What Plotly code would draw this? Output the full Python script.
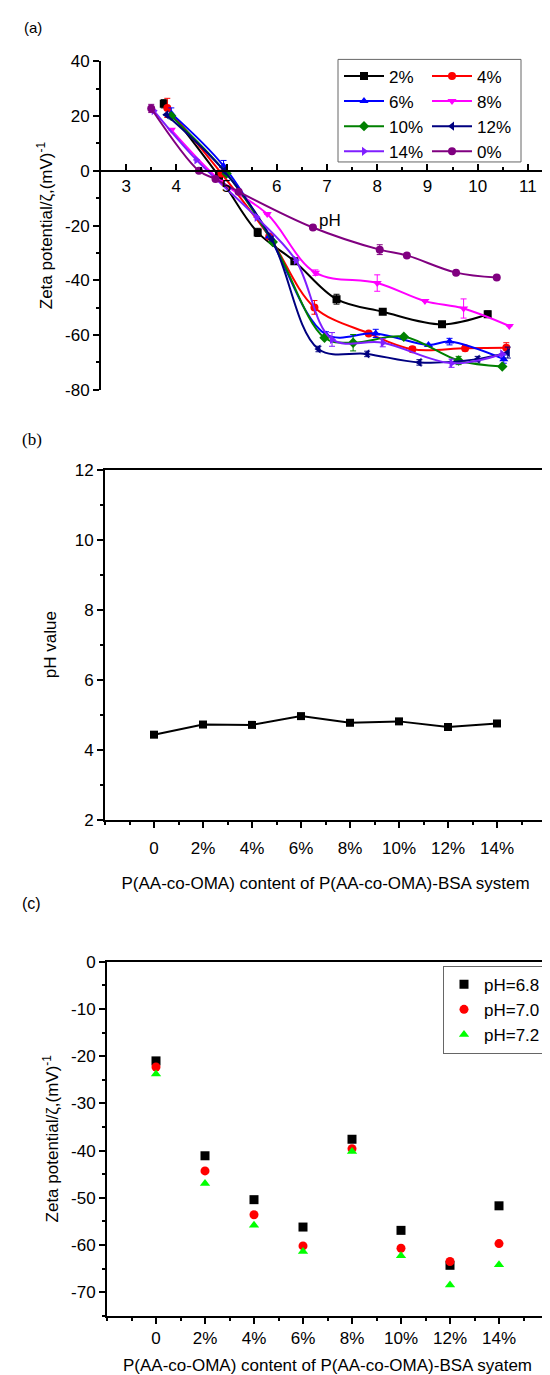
import plotly.graph_objects as go

W, H = 550, 1375
FONT = "Liberation Sans, Arial, sans-serif"

# ---------------- Panel (a) data ----------------
names_a = ["2%", "4%", "6%", "8%", "10%", "12%", "14%", "0%"]
colors_a = ["#000000", "#FF0000", "#0000FF", "#FF00FF", "#008000", "#000080", "#7F1FFF", "#800080"]
symbols_a = ["square", "circle", "triangle-up", "triangle-down", "diamond", "triangle-left", "triangle-right", "circle"]

ph_2 = [3.75, 4.85, 5.62, 6.35, 7.19, 8.11, 9.29, 10.2]
z_2 = [24.5, -2.0, -22.5, -33.0, -46.9, -51.5, -56.1, -52.4]
e_2 = [1.5, 0, 1.5, 0, 1.8, 1.0, 1.0, 1.2]

ph_4 = [3.82, 4.9, 5.85, 6.75, 7.83, 8.7, 9.75, 10.57]
z_4 = [23.0, -1.0, -24.0, -49.9, -59.4, -65.2, -64.8, -64.6]
e_4 = [3.5, 0, 0, 2.5, 0, 1.0, 1.0, 1.8]

ph_6 = [3.9, 4.94, 5.85, 6.98, 7.97, 9.02, 9.44, 10.52]
z_6 = [21.0, 1.8, -24.0, -59.8, -59.4, -63.6, -62.4, -68.8]
e_6 = [2.0, 2.0, 0, 1.0, 1.5, 0, 1.2, 1.5]

ph_8 = [3.9, 4.9, 5.81, 6.77, 8.0, 8.95, 9.72, 10.63]
z_8 = [15.0, -4.0, -15.8, -37.2, -41.0, -47.6, -50.3, -56.7]
e_8 = [0, 0, 0, 1.0, 3.0, 0, 3.5, 0]

ph_10 = [3.9, 5.0, 5.92, 6.95, 7.52, 8.53, 9.62, 10.49]
z_10 = [20.0, -1.0, -26.0, -61.0, -62.8, -60.6, -69.3, -71.5]
e_10 = [0, 0, 0, 0, 3.0, 0, 1.5, 0]

ph_12 = [3.8, 4.95, 5.9, 6.83, 7.8, 8.84, 10.0, 10.6]
z_12 = [20.5, 0.0, -25.0, -65.1, -66.9, -70.0, -68.8, -66.4]
e_12 = [0, 0, 0, 1.0, 1.0, 1.0, 1.0, 2.0]

ph_14 = [3.55, 4.4, 5.6, 6.38, 7.1, 8.11, 9.48, 10.49]
z_14 = [22.0, 4.0, -17.0, -32.7, -61.6, -62.8, -70.3, -66.9]
e_14 = [0, 0, 0, 0, 2.5, 1.5, 1.5, 0]

ph_0 = [3.5, 4.45, 4.78, 5.24, 6.72, 8.05, 8.59, 9.57, 10.38]
z_0 = [22.8, 0.0, -3.0, -7.6, -20.7, -28.8, -30.9, -37.2, -39.0]
e_0 = [1.5, 0, 0, 0, 0.8, 1.8, 0, 0, 0]

series_a = [(ph_2, z_2, e_2), (ph_4, z_4, e_4), (ph_6, z_6, e_6), (ph_8, z_8, e_8),
            (ph_10, z_10, e_10), (ph_12, z_12, e_12), (ph_14, z_14, e_14), (ph_0, z_0, e_0)]
legend_of_a = ["legend", "legend2", "legend", "legend2", "legend", "legend2", "legend", "legend2"]

a_xticks = [3, 4, 5, 6, 7, 8, 9, 10, 11]
a_yticks = [40, 20, 0, -20, -40, -60, -80]

# ---------------- Panel (b) data ----------------
categories = ["0", "2%", "4%", "6%", "8%", "10%", "12%", "14%"]
ph_values = [4.43, 4.72, 4.71, 4.96, 4.77, 4.81, 4.65, 4.75]
b_yticks = [2, 4, 6, 8, 10, 12]

# ---------------- Panel (c) data ----------------
names_c = ["pH=6.8", "pH=7.0", "pH=7.2"]
z_ph68 = [-21.0, -41.1, -50.4, -56.2, -37.6, -56.9, -64.3, -51.7]
z_ph70 = [-22.3, -44.3, -53.6, -60.2, -39.6, -60.7, -63.5, -59.7]
z_ph72 = [-23.8, -47.0, -55.8, -61.4, -40.2, -62.3, -68.5, -64.2]
colors_c = ["#000000", "#FF0000", "#00FF00"]
symbols_c = ["square", "circle", "triangle-up"]
c_yticks = [0, -10, -20, -30, -40, -50, -60, -70]

fig = go.Figure()

# Panel (a) traces
for (xs, ys, es), nm, col, sym, lg in zip(series_a, names_a, colors_a, symbols_a, legend_of_a):
    fig.add_trace(go.Scatter(
        x=xs, y=ys, name=nm, mode="lines+markers",
        line=dict(color=col, width=2, shape="spline", smoothing=1.0),
        marker=dict(color=col, symbol=sym, size=8),
        error_y=dict(type="data", array=es, visible=True, color=col, thickness=1, width=3),
        xaxis="x", yaxis="y", legend=lg))

# Panel (b) trace
idx = list(range(len(categories)))
fig.add_trace(go.Scatter(
    x=idx, y=ph_values, mode="lines+markers", showlegend=False,
    line=dict(color="black", width=2), marker=dict(color="black", symbol="square", size=8),
    xaxis="x2", yaxis="y2"))

# Panel (c) traces
for ys, nm, col, sym in zip([z_ph68, z_ph70, z_ph72], names_c, colors_c, symbols_c):
    fig.add_trace(go.Scatter(
        x=idx, y=ys, name=nm, mode="markers",
        marker=dict(color=col, symbol=sym, size=9),
        xaxis="x3", yaxis="y3", legend="legend3"))

# ---------- geometry ----------
def px_x(p):
    return p / W

def px_y(p):
    return 1 - p / H

a_dom_x = [px_x(93), px_x(545)]
a_dom_y = [px_y(378), px_y(45)]
a_yrange = [-80, 40]
a_zero = a_dom_y[0] + (0 - a_yrange[0]) / (a_yrange[1] - a_yrange[0]) * (a_dom_y[1] - a_dom_y[0])

b_dom_x = [px_x(97), px_x(538)]
b_dom_y = [px_y(814), px_y(459)]

c_dom_x = [px_x(99), px_x(540)]
c_dom_y = [px_y(1317), px_y(958)]

FS = 17
tickfont = dict(family=FONT, size=FS, color="black")
titlefont = dict(family=FONT, size=FS, color="black")

axis_common = dict(showgrid=False, zeroline=False, showline=True, linecolor="black",
                   linewidth=2, tickcolor="black", tickwidth=2, tickfont=tickfont)

def lab(vals):
    return [str(v) for v in vals]

fig.update_layout(
    width=W, height=H, margin=dict(l=0, r=0, t=0, b=0),
    paper_bgcolor="white", plot_bgcolor="white",
    font=dict(family=FONT, size=FS, color="black"),
    xaxis=dict(domain=a_dom_x, range=[2.5, 11.5], anchor="free", position=a_zero,
               tickvals=a_xticks, ticktext=lab(a_xticks), ticks="inside", ticklen=6,
               minor=dict(ticks="inside", dtick=0.5, tick0=3, ticklen=3, tickcolor="black", tickwidth=1.5),
               **axis_common),
    yaxis=dict(domain=a_dom_y, range=a_yrange, anchor="x",
               tickvals=a_yticks, ticktext=lab(a_yticks),
               ticks="outside", ticklen=6,
               minor=dict(ticks="outside", dtick=10, tick0=0, ticklen=3, tickcolor="black", tickwidth=1.5),
               title=dict(text="Zeta potential/ζ,(mV)<sup>-1</sup>", font=titlefont, standoff=8),
               **axis_common),
    xaxis2=dict(domain=b_dom_x, range=[-1, 8], anchor="y2", mirror=True,
                tickvals=idx, ticktext=categories, ticks="outside", ticklen=6, ticklabelstandoff=6,
                minor=dict(ticks="outside", dtick=0.5, tick0=0, ticklen=3, tickcolor="black", tickwidth=1.5),
                title=dict(text="P(AA-co-OMA) content of P(AA-co-OMA)-BSA system", font=titlefont, standoff=20),
                **axis_common),
    yaxis2=dict(domain=b_dom_y, range=[2, 12], anchor="x2", mirror=True,
                tickvals=b_yticks, ticktext=lab(b_yticks),
                ticks="outside", ticklen=6,
                minor=dict(ticks="outside", dtick=1, tick0=0, ticklen=3, tickcolor="black", tickwidth=1.5),
                title=dict(text="pH value", font=titlefont, standoff=14),
                **axis_common),
    xaxis3=dict(domain=c_dom_x, range=[-1, 8], anchor="y3", mirror=True,
                tickvals=idx, ticktext=categories, ticks="outside", ticklen=6,
                minor=dict(ticks="outside", dtick=0.5, tick0=0, ticklen=3, tickcolor="black", tickwidth=1.5),
                title=dict(text="P(AA-co-OMA) content of P(AA-co-OMA)-BSA syatem", font=titlefont, standoff=12),
                **axis_common),
    yaxis3=dict(domain=c_dom_y, range=[-75, 0], anchor="x3", mirror=True,
                tickvals=c_yticks, ticktext=lab(c_yticks),
                ticks="outside", ticklen=6,
                minor=dict(ticks="outside", dtick=5, tick0=0, ticklen=3, tickcolor="black", tickwidth=1.5),
                title=dict(text="Zeta potential/ζ,(mV)<sup>-1</sup>", font=titlefont, standoff=8),
                **axis_common),
    legend=dict(x=px_x(331), y=px_y(42), xanchor="left", yanchor="top", bgcolor="rgba(0,0,0,0)",
                font=dict(family=FONT, size=FS), tracegroupgap=0, itemwidth=40),
    legend2=dict(x=px_x(419), y=px_y(42), xanchor="left", yanchor="top", bgcolor="rgba(0,0,0,0)",
                 font=dict(family=FONT, size=FS), tracegroupgap=0, itemwidth=40),
    legend3=dict(x=px_x(538), y=px_y(962), xanchor="right", yanchor="top", bgcolor="white",
                 bordercolor="#666", borderwidth=1,
                 font=dict(family=FONT, size=FS), tracegroupgap=0, itemwidth=30),
    shapes=[dict(type="rect", xref="paper", yref="paper",
                 x0=px_x(330), x1=px_x(513), y0=px_y(147), y1=px_y(43),
                 line=dict(color="#666", width=1))],
    annotations=[
        dict(text="(a)", xref="paper", yref="paper", x=px_x(14), y=px_y(11), xanchor="left",
             yanchor="middle", showarrow=False, font=dict(family=FONT, size=15)),
        dict(text="(b)", xref="paper", yref="paper", x=px_x(12), y=px_y(428), xanchor="left",
             yanchor="middle", showarrow=False, font=dict(family="Liberation Serif, Times New Roman, serif", size=17)),
        dict(text="(c)", xref="paper", yref="paper", x=px_x(12), y=px_y(899), xanchor="left",
             yanchor="middle", showarrow=False, font=dict(family=FONT, size=16)),
        dict(text="pH", xref="x", yref="y", x=6.8, y=-18.0, xanchor="left", yanchor="middle",
             showarrow=False, font=dict(family=FONT, size=FS)),
    ],
)

fig.write_html("out.html")
